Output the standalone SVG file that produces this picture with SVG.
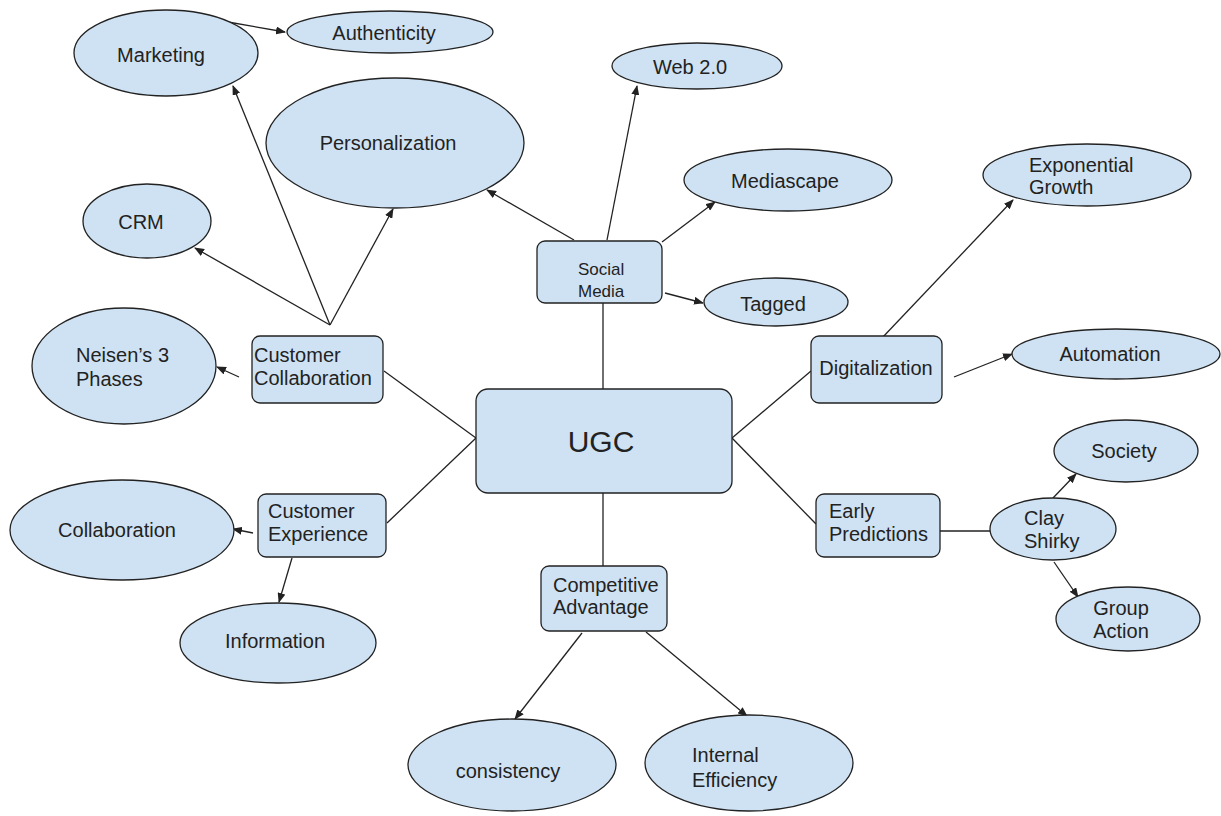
<svg xmlns="http://www.w3.org/2000/svg" width="1221" height="816" viewBox="0 0 1221 816">
<style>
.n{fill:#cfe2f3;stroke:#222;stroke-width:1.3}
.t{font-family:"Liberation Sans",Arial,sans-serif;font-size:20px;fill:#222}
.c{text-anchor:middle}
.s{font-size:17px}
.e{stroke:#222;stroke-width:1.3;fill:none}
.a{marker-end:url(#ah)}
</style>
<defs>
<marker id="ah" markerUnits="userSpaceOnUse" markerWidth="10" markerHeight="8" refX="9" refY="4" orient="auto">
<path d="M0,0 L10,4 L0,8 Z" fill="#222"/>
</marker>
</defs>
<rect width="1221" height="816" fill="#fff"/>
<g id="connectors">
<line class="e a" x1="228" y1="22" x2="285" y2="32"/>
<line class="e a" x1="330" y1="325" x2="233" y2="86"/>
<line class="e a" x1="330" y1="325" x2="195" y2="248"/>
<line class="e a" x1="330" y1="325" x2="393" y2="209"/>
<line class="e a" x1="574" y1="240" x2="487" y2="190"/>
<line class="e a" x1="607" y1="240" x2="637" y2="86"/>
<line class="e a" x1="662" y1="242" x2="715" y2="202"/>
<line class="e a" x1="665" y1="293" x2="703" y2="303"/>
<line class="e" x1="603" y1="303" x2="603" y2="389"/>
<line class="e a" x1="239" y1="377" x2="217" y2="367"/>
<line class="e" x1="384" y1="371" x2="476" y2="438"/>
<line class="e" x1="387" y1="523" x2="476" y2="438"/>
<line class="e a" x1="253" y1="533" x2="233" y2="529"/>
<line class="e a" x1="292" y1="558" x2="279" y2="602"/>
<line class="e" x1="603" y1="493" x2="603" y2="566"/>
<line class="e a" x1="582" y1="633" x2="515" y2="719"/>
<line class="e a" x1="646" y1="632" x2="747" y2="716"/>
<line class="e" x1="732" y1="438" x2="811" y2="371"/>
<line class="e" x1="732" y1="438" x2="816" y2="524"/>
<line class="e a" x1="882" y1="338" x2="1013" y2="200"/>
<line class="e a" x1="954" y1="377" x2="1012" y2="354"/>
<line class="e" x1="940" y1="531" x2="990" y2="531"/>
<line class="e a" x1="1053" y1="498" x2="1076" y2="474"/>
<line class="e a" x1="1054" y1="562" x2="1078" y2="597"/>
</g>
<g id="marketing"><ellipse class="n" cx="166" cy="53" rx="92" ry="43"/><text class="t c" x="161" y="62">Marketing</text></g>
<g id="authenticity"><ellipse class="n" cx="390" cy="32" rx="103" ry="21"/><text class="t c" x="384" y="40">Authenticity</text></g>
<g id="personalization"><ellipse class="n" cx="395" cy="143" rx="129" ry="65"/><text class="t c" x="388" y="150">Personalization</text></g>
<g id="crm"><ellipse class="n" cx="147" cy="221" rx="64" ry="37"/><text class="t c" x="141" y="229">CRM</text></g>
<g id="neisen"><ellipse class="n" cx="124" cy="366" rx="92" ry="58"/><text class="t" x="76" y="362">Neisen’s 3</text><text class="t" x="76" y="386">Phases</text></g>
<g id="customer-collaboration"><rect class="n" x="252" y="336" width="131" height="67" rx="8"/><text class="t" x="254" y="362">Customer</text><text class="t" x="254" y="385">Collaboration</text></g>
<g id="collaboration"><ellipse class="n" cx="122" cy="530" rx="112" ry="50"/><text class="t c" x="117" y="537">Collaboration</text></g>
<g id="customer-experience"><rect class="n" x="258" y="494" width="128" height="63" rx="8"/><text class="t" x="268" y="518">Customer</text><text class="t" x="268" y="541">Experience</text></g>
<g id="information"><ellipse class="n" cx="278" cy="643" rx="98" ry="40"/><text class="t c" x="275" y="648">Information</text></g>
<g id="web20"><ellipse class="n" cx="697" cy="66" rx="85" ry="23"/><text class="t c" x="690" y="74">Web 2.0</text></g>
<g id="mediascape"><ellipse class="n" cx="788" cy="180" rx="104" ry="31"/><text class="t c" x="785" y="188">Mediascape</text></g>
<g id="social-media"><rect class="n" x="537" y="241" width="125" height="62" rx="8"/><text class="t s" x="578" y="275">Social</text><text class="t s" x="578" y="297">Media</text></g>
<g id="tagged"><ellipse class="n" cx="776" cy="302" rx="72" ry="24"/><text class="t c" x="773" y="311">Tagged</text></g>
<g id="ugc"><rect class="n" x="476" y="389" width="256" height="104" rx="12"/><text class="t c" x="601" y="452" style="font-size:30px">UGC</text></g>
<g id="competitive-advantage"><rect class="n" x="541" y="566" width="126" height="65" rx="8"/><text class="t" x="553" y="592">Competitive</text><text class="t" x="553" y="614">Advantage</text></g>
<g id="consistency"><ellipse class="n" cx="512" cy="765" rx="104" ry="46"/><text class="t c" x="508" y="778">consistency</text></g>
<g id="internal-efficiency"><ellipse class="n" cx="749" cy="763" rx="104" ry="48"/><text class="t" x="692" y="762">Internal</text><text class="t" x="692" y="787">Efficiency</text></g>
<g id="exponential-growth"><ellipse class="n" cx="1087" cy="175" rx="104" ry="31"/><text class="t" x="1029" y="172">Exponential</text><text class="t" x="1029" y="194">Growth</text></g>
<g id="digitalization"><rect class="n" x="811" y="336" width="131" height="67" rx="8"/><text class="t c" x="876" y="375">Digitalization</text></g>
<g id="automation"><ellipse class="n" cx="1116" cy="354" rx="104" ry="25"/><text class="t c" x="1110" y="361">Automation</text></g>
<g id="early-predictions"><rect class="n" x="816" y="494" width="124" height="63" rx="8"/><text class="t" x="829" y="518">Early</text><text class="t" x="829" y="541">Predictions</text></g>
<g id="clay-shirky"><ellipse class="n" cx="1053" cy="529" rx="63" ry="31"/><text class="t" x="1024" y="525">Clay</text><text class="t" x="1024" y="548">Shirky</text></g>
<g id="society"><ellipse class="n" cx="1126" cy="451" rx="72" ry="31"/><text class="t c" x="1124" y="458">Society</text></g>
<g id="group-action"><ellipse class="n" cx="1128" cy="619" rx="72" ry="32"/><text class="t c" x="1121" y="615">Group</text><text class="t c" x="1121" y="638">Action</text></g>
</svg>
